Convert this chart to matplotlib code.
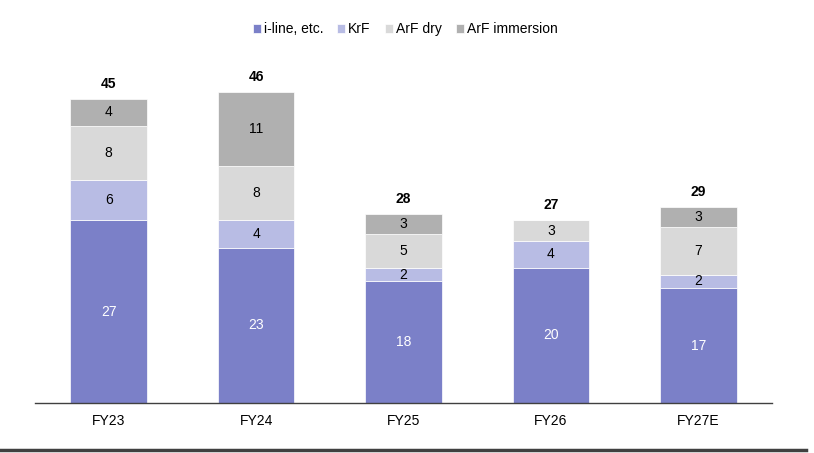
import matplotlib
matplotlib.use("Agg")
import matplotlib.pyplot as plt
from matplotlib.lines import Line2D

plt.rcParams["font.family"] = ["Liberation Sans", "DejaVu Sans"]

years = ["FY23", "FY24", "FY25", "FY26", "FY27E"]
series_names = ["i-line, etc.", "KrF", "ArF dry", "ArF immersion"]
i_line = [27, 23, 18, 20, 17]
krf = [6, 4, 2, 4, 2]
arf_dry = [8, 8, 5, 3, 7]
arf_imm = [4, 11, 3, 0, 3]
totals = [45, 46, 28, 27, 29]

colors = ["#7B80C8", "#B8BCE4", "#D9D9D9", "#B0B0B0"]
text_colors = ["white", "black", "black", "black"]


def main():
    fig = plt.figure(figsize=(8.14, 4.53), dpi=100)
    ax = fig.add_axes([35 / 814, 50 / 453, 737 / 814, 338 / 453])

    x = list(range(len(years)))
    bottoms = [0] * len(years)
    for name, values, color, tcolor in zip(
        series_names, [i_line, krf, arf_dry, arf_imm], colors, text_colors
    ):
        ax.bar(x, values, bottom=bottoms, width=0.52, color=color,
               edgecolor="white", linewidth=0.5, label=name)
        for i, v in enumerate(values):
            if v > 0:
                ax.text(i, bottoms[i] + v / 2, str(v), ha="center",
                        va="center", fontsize=10, color=tcolor)
        bottoms = [b + v for b, v in zip(bottoms, values)]

    for i, t in enumerate(totals):
        ax.text(i, bottoms[i] + 1.2, str(t), ha="center", va="bottom",
                fontsize=10, fontweight="bold")

    ax.set_xlim(-0.5, 4.5)
    ax.set_ylim(0, 50)
    ax.set_xticks(x)
    ax.set_xticklabels(years, fontsize=10)
    ax.tick_params(axis="x", length=0, pad=8)
    ax.set_yticks([])
    for side in ["top", "right", "left"]:
        ax.spines[side].set_visible(False)
    ax.spines["bottom"].set_color("#404040")
    ax.spines["bottom"].set_linewidth(1)

    fig.legend(loc="center", bbox_to_anchor=(405 / 814, 1 - 29 / 453),
               ncol=4, frameon=False, fontsize=10, handlelength=0.6,
               handleheight=0.6, handletextpad=0.2, columnspacing=1.0)

    fig.add_artist(Line2D([0, 0.99], [1 - 450 / 453] * 2,
                          transform=fig.transFigure, color="#404040",
                          linewidth=2.5))

    fig.savefig("out.png", dpi=100)
    plt.close(fig)


if __name__ == "__main__":
    main()
